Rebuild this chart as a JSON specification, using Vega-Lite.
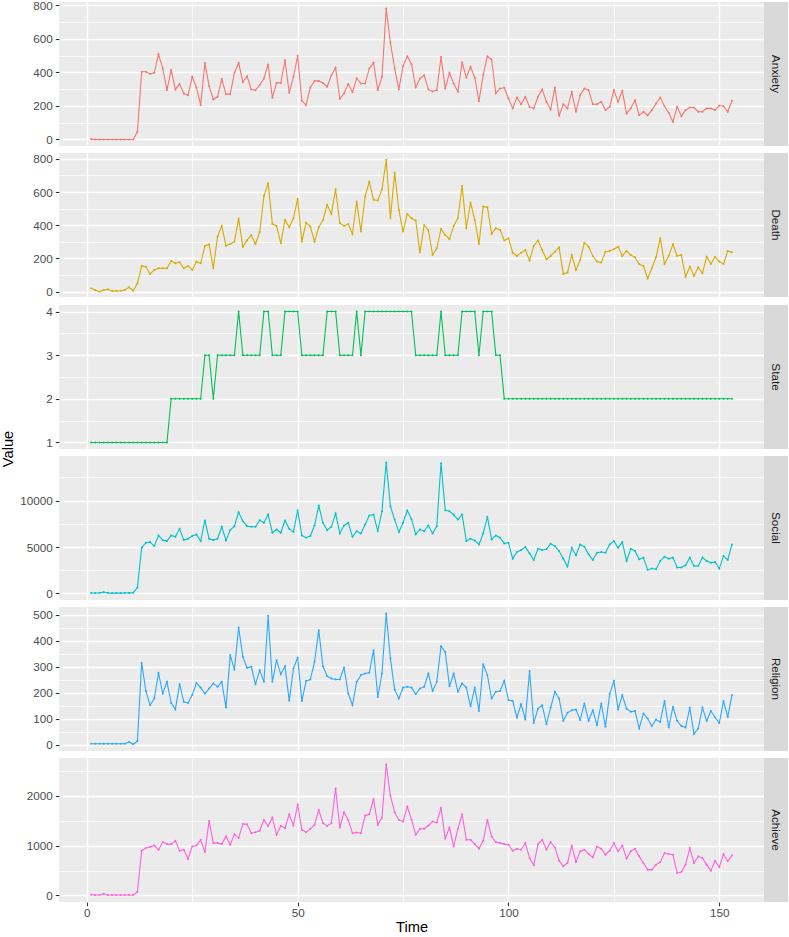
{
"$schema": "https://vega.github.io/schema/vega-lite/v6.json",
"padding": {"left": 0, "top": 0, "right": 0, "bottom": 0},
"background": "#FFFFFF",
"config": {
  "font": "Liberation Sans",
  "view": {"stroke": null},
  "axis": {"labelFont": "Liberation Sans", "titleFont": "Liberation Sans", "domain": false, "gridColor": "#FFFFFF", "tickColor": "#333333", "labelColor": "#4D4D4D", "labelFontSize": 11.7, "titleFontSize": 14.7, "titleFontWeight": "normal", "titleColor": "#000000", "tickSize": 3.7, "tickWidth": 1.1, "labelPadding": 3, "labelOverlap": false, "format": "d"}
},
"datasets": {
"anxiety": [{"Time":1,"Value":2},{"Time":2,"Value":0},{"Time":3,"Value":0},{"Time":4,"Value":0},{"Time":5,"Value":0},{"Time":6,"Value":0},{"Time":7,"Value":0},{"Time":8,"Value":0},{"Time":9,"Value":0},{"Time":10,"Value":0},{"Time":11,"Value":0},{"Time":12,"Value":46},{"Time":13,"Value":403},{"Time":14,"Value":403},{"Time":15,"Value":390},{"Time":16,"Value":397},{"Time":17,"Value":508},{"Time":18,"Value":423},{"Time":19,"Value":294},{"Time":20,"Value":415},{"Time":21,"Value":298},{"Time":22,"Value":330},{"Time":23,"Value":274},{"Time":24,"Value":264},{"Time":25,"Value":373},{"Time":26,"Value":310},{"Time":27,"Value":204},{"Time":28,"Value":456},{"Time":29,"Value":318},{"Time":30,"Value":238},{"Time":31,"Value":254},{"Time":32,"Value":361},{"Time":33,"Value":270},{"Time":34,"Value":270},{"Time":35,"Value":397},{"Time":36,"Value":456},{"Time":37,"Value":341},{"Time":38,"Value":377},{"Time":39,"Value":298},{"Time":40,"Value":294},{"Time":41,"Value":324},{"Time":42,"Value":363},{"Time":43,"Value":447},{"Time":44,"Value":248},{"Time":45,"Value":337},{"Time":46,"Value":337},{"Time":47,"Value":472},{"Time":48,"Value":278},{"Time":49,"Value":373},{"Time":50,"Value":498},{"Time":51,"Value":230},{"Time":52,"Value":204},{"Time":53,"Value":310},{"Time":54,"Value":349},{"Time":55,"Value":349},{"Time":56,"Value":337},{"Time":57,"Value":314},{"Time":58,"Value":383},{"Time":59,"Value":427},{"Time":60,"Value":242},{"Time":61,"Value":274},{"Time":62,"Value":330},{"Time":63,"Value":282},{"Time":64,"Value":365},{"Time":65,"Value":333},{"Time":66,"Value":333},{"Time":67,"Value":423},{"Time":68,"Value":458},{"Time":69,"Value":294},{"Time":70,"Value":373},{"Time":71,"Value":780},{"Time":72,"Value":576},{"Time":73,"Value":423},{"Time":74,"Value":298},{"Time":75,"Value":437},{"Time":76,"Value":496},{"Time":77,"Value":448},{"Time":78,"Value":310},{"Time":79,"Value":363},{"Time":80,"Value":383},{"Time":81,"Value":298},{"Time":82,"Value":286},{"Time":83,"Value":294},{"Time":84,"Value":492},{"Time":85,"Value":304},{"Time":86,"Value":397},{"Time":87,"Value":333},{"Time":88,"Value":284},{"Time":89,"Value":460},{"Time":90,"Value":369},{"Time":91,"Value":433},{"Time":92,"Value":369},{"Time":93,"Value":228},{"Time":94,"Value":383},{"Time":95,"Value":496},{"Time":96,"Value":476},{"Time":97,"Value":274},{"Time":98,"Value":304},{"Time":99,"Value":308},{"Time":100,"Value":244},{"Time":101,"Value":185},{"Time":102,"Value":250},{"Time":103,"Value":210},{"Time":104,"Value":254},{"Time":105,"Value":194},{"Time":106,"Value":185},{"Time":107,"Value":254},{"Time":108,"Value":298},{"Time":109,"Value":224},{"Time":110,"Value":179},{"Time":111,"Value":310},{"Time":112,"Value":141},{"Time":113,"Value":210},{"Time":114,"Value":185},{"Time":115,"Value":284},{"Time":116,"Value":165},{"Time":117,"Value":264},{"Time":118,"Value":304},{"Time":119,"Value":294},{"Time":120,"Value":210},{"Time":121,"Value":210},{"Time":122,"Value":224},{"Time":123,"Value":175},{"Time":124,"Value":194},{"Time":125,"Value":294},{"Time":126,"Value":224},{"Time":127,"Value":290},{"Time":128,"Value":155},{"Time":129,"Value":185},{"Time":130,"Value":234},{"Time":131,"Value":145},{"Time":132,"Value":165},{"Time":133,"Value":143},{"Time":134,"Value":175},{"Time":135,"Value":214},{"Time":136,"Value":250},{"Time":137,"Value":198},{"Time":138,"Value":159},{"Time":139,"Value":105},{"Time":140,"Value":194},{"Time":141,"Value":139},{"Time":142,"Value":175},{"Time":143,"Value":190},{"Time":144,"Value":190},{"Time":145,"Value":165},{"Time":146,"Value":165},{"Time":147,"Value":185},{"Time":148,"Value":185},{"Time":149,"Value":175},{"Time":150,"Value":202},{"Time":151,"Value":198},{"Time":152,"Value":165},{"Time":153,"Value":230}],
"death": [{"Time":1,"Value":20},{"Time":2,"Value":10},{"Time":3,"Value":0},{"Time":4,"Value":10},{"Time":5,"Value":14},{"Time":6,"Value":4},{"Time":7,"Value":4},{"Time":8,"Value":6},{"Time":9,"Value":10},{"Time":10,"Value":26},{"Time":11,"Value":6},{"Time":12,"Value":50},{"Time":13,"Value":155},{"Time":14,"Value":150},{"Time":15,"Value":107},{"Time":16,"Value":131},{"Time":17,"Value":141},{"Time":18,"Value":141},{"Time":19,"Value":141},{"Time":20,"Value":185},{"Time":21,"Value":171},{"Time":22,"Value":177},{"Time":23,"Value":141},{"Time":24,"Value":155},{"Time":25,"Value":131},{"Time":26,"Value":181},{"Time":27,"Value":171},{"Time":28,"Value":275},{"Time":29,"Value":285},{"Time":30,"Value":141},{"Time":31,"Value":332},{"Time":32,"Value":396},{"Time":33,"Value":277},{"Time":34,"Value":287},{"Time":35,"Value":301},{"Time":36,"Value":440},{"Time":37,"Value":270},{"Time":38,"Value":310},{"Time":39,"Value":340},{"Time":40,"Value":287},{"Time":41,"Value":360},{"Time":42,"Value":577},{"Time":43,"Value":653},{"Time":44,"Value":408},{"Time":45,"Value":396},{"Time":46,"Value":291},{"Time":47,"Value":432},{"Time":48,"Value":388},{"Time":49,"Value":442},{"Time":50,"Value":559},{"Time":51,"Value":301},{"Time":52,"Value":416},{"Time":53,"Value":392},{"Time":54,"Value":301},{"Time":55,"Value":388},{"Time":56,"Value":432},{"Time":57,"Value":523},{"Time":58,"Value":468},{"Time":59,"Value":617},{"Time":60,"Value":412},{"Time":61,"Value":396},{"Time":62,"Value":408},{"Time":63,"Value":346},{"Time":64,"Value":543},{"Time":65,"Value":362},{"Time":66,"Value":573},{"Time":67,"Value":663},{"Time":68,"Value":553},{"Time":69,"Value":549},{"Time":70,"Value":617},{"Time":71,"Value":794},{"Time":72,"Value":442},{"Time":73,"Value":718},{"Time":74,"Value":492},{"Time":75,"Value":362},{"Time":76,"Value":468},{"Time":77,"Value":442},{"Time":78,"Value":428},{"Time":79,"Value":237},{"Time":80,"Value":400},{"Time":81,"Value":372},{"Time":82,"Value":221},{"Time":83,"Value":261},{"Time":84,"Value":378},{"Time":85,"Value":342},{"Time":86,"Value":316},{"Time":87,"Value":396},{"Time":88,"Value":442},{"Time":89,"Value":637},{"Time":90,"Value":382},{"Time":91,"Value":537},{"Time":92,"Value":432},{"Time":93,"Value":287},{"Time":94,"Value":513},{"Time":95,"Value":509},{"Time":96,"Value":348},{"Time":97,"Value":382},{"Time":98,"Value":372},{"Time":99,"Value":308},{"Time":100,"Value":322},{"Time":101,"Value":235},{"Time":102,"Value":215},{"Time":103,"Value":235},{"Time":104,"Value":251},{"Time":105,"Value":187},{"Time":106,"Value":277},{"Time":107,"Value":308},{"Time":108,"Value":251},{"Time":109,"Value":195},{"Time":110,"Value":215},{"Time":111,"Value":241},{"Time":112,"Value":267},{"Time":113,"Value":107},{"Time":114,"Value":115},{"Time":115,"Value":221},{"Time":116,"Value":131},{"Time":117,"Value":191},{"Time":118,"Value":295},{"Time":119,"Value":271},{"Time":120,"Value":215},{"Time":121,"Value":181},{"Time":122,"Value":175},{"Time":123,"Value":241},{"Time":124,"Value":245},{"Time":125,"Value":255},{"Time":126,"Value":271},{"Time":127,"Value":215},{"Time":128,"Value":245},{"Time":129,"Value":221},{"Time":130,"Value":207},{"Time":131,"Value":167},{"Time":132,"Value":155},{"Time":133,"Value":80},{"Time":134,"Value":141},{"Time":135,"Value":207},{"Time":136,"Value":322},{"Time":137,"Value":167},{"Time":138,"Value":215},{"Time":139,"Value":285},{"Time":140,"Value":215},{"Time":141,"Value":221},{"Time":142,"Value":90},{"Time":143,"Value":151},{"Time":144,"Value":95},{"Time":145,"Value":147},{"Time":146,"Value":111},{"Time":147,"Value":211},{"Time":148,"Value":167},{"Time":149,"Value":211},{"Time":150,"Value":181},{"Time":151,"Value":167},{"Time":152,"Value":245},{"Time":153,"Value":237}],
"state": [{"Time":1,"Value":1},{"Time":2,"Value":1},{"Time":3,"Value":1},{"Time":4,"Value":1},{"Time":5,"Value":1},{"Time":6,"Value":1},{"Time":7,"Value":1},{"Time":8,"Value":1},{"Time":9,"Value":1},{"Time":10,"Value":1},{"Time":11,"Value":1},{"Time":12,"Value":1},{"Time":13,"Value":1},{"Time":14,"Value":1},{"Time":15,"Value":1},{"Time":16,"Value":1},{"Time":17,"Value":1},{"Time":18,"Value":1},{"Time":19,"Value":1},{"Time":20,"Value":2},{"Time":21,"Value":2},{"Time":22,"Value":2},{"Time":23,"Value":2},{"Time":24,"Value":2},{"Time":25,"Value":2},{"Time":26,"Value":2},{"Time":27,"Value":2},{"Time":28,"Value":3},{"Time":29,"Value":3},{"Time":30,"Value":2},{"Time":31,"Value":3},{"Time":32,"Value":3},{"Time":33,"Value":3},{"Time":34,"Value":3},{"Time":35,"Value":3},{"Time":36,"Value":4},{"Time":37,"Value":3},{"Time":38,"Value":3},{"Time":39,"Value":3},{"Time":40,"Value":3},{"Time":41,"Value":3},{"Time":42,"Value":4},{"Time":43,"Value":4},{"Time":44,"Value":3},{"Time":45,"Value":3},{"Time":46,"Value":3},{"Time":47,"Value":4},{"Time":48,"Value":4},{"Time":49,"Value":4},{"Time":50,"Value":4},{"Time":51,"Value":3},{"Time":52,"Value":3},{"Time":53,"Value":3},{"Time":54,"Value":3},{"Time":55,"Value":3},{"Time":56,"Value":3},{"Time":57,"Value":4},{"Time":58,"Value":4},{"Time":59,"Value":4},{"Time":60,"Value":3},{"Time":61,"Value":3},{"Time":62,"Value":3},{"Time":63,"Value":3},{"Time":64,"Value":4},{"Time":65,"Value":3},{"Time":66,"Value":4},{"Time":67,"Value":4},{"Time":68,"Value":4},{"Time":69,"Value":4},{"Time":70,"Value":4},{"Time":71,"Value":4},{"Time":72,"Value":4},{"Time":73,"Value":4},{"Time":74,"Value":4},{"Time":75,"Value":4},{"Time":76,"Value":4},{"Time":77,"Value":4},{"Time":78,"Value":3},{"Time":79,"Value":3},{"Time":80,"Value":3},{"Time":81,"Value":3},{"Time":82,"Value":3},{"Time":83,"Value":3},{"Time":84,"Value":4},{"Time":85,"Value":3},{"Time":86,"Value":3},{"Time":87,"Value":3},{"Time":88,"Value":3},{"Time":89,"Value":4},{"Time":90,"Value":4},{"Time":91,"Value":4},{"Time":92,"Value":4},{"Time":93,"Value":3},{"Time":94,"Value":4},{"Time":95,"Value":4},{"Time":96,"Value":4},{"Time":97,"Value":3},{"Time":98,"Value":3},{"Time":99,"Value":2},{"Time":100,"Value":2},{"Time":101,"Value":2},{"Time":102,"Value":2},{"Time":103,"Value":2},{"Time":104,"Value":2},{"Time":105,"Value":2},{"Time":106,"Value":2},{"Time":107,"Value":2},{"Time":108,"Value":2},{"Time":109,"Value":2},{"Time":110,"Value":2},{"Time":111,"Value":2},{"Time":112,"Value":2},{"Time":113,"Value":2},{"Time":114,"Value":2},{"Time":115,"Value":2},{"Time":116,"Value":2},{"Time":117,"Value":2},{"Time":118,"Value":2},{"Time":119,"Value":2},{"Time":120,"Value":2},{"Time":121,"Value":2},{"Time":122,"Value":2},{"Time":123,"Value":2},{"Time":124,"Value":2},{"Time":125,"Value":2},{"Time":126,"Value":2},{"Time":127,"Value":2},{"Time":128,"Value":2},{"Time":129,"Value":2},{"Time":130,"Value":2},{"Time":131,"Value":2},{"Time":132,"Value":2},{"Time":133,"Value":2},{"Time":134,"Value":2},{"Time":135,"Value":2},{"Time":136,"Value":2},{"Time":137,"Value":2},{"Time":138,"Value":2},{"Time":139,"Value":2},{"Time":140,"Value":2},{"Time":141,"Value":2},{"Time":142,"Value":2},{"Time":143,"Value":2},{"Time":144,"Value":2},{"Time":145,"Value":2},{"Time":146,"Value":2},{"Time":147,"Value":2},{"Time":148,"Value":2},{"Time":149,"Value":2},{"Time":150,"Value":2},{"Time":151,"Value":2},{"Time":152,"Value":2},{"Time":153,"Value":2}],
"social": [{"Time":1,"Value":50},{"Time":2,"Value":50},{"Time":3,"Value":60},{"Time":4,"Value":150},{"Time":5,"Value":50},{"Time":6,"Value":40},{"Time":7,"Value":50},{"Time":8,"Value":40},{"Time":9,"Value":50},{"Time":10,"Value":60},{"Time":11,"Value":80},{"Time":12,"Value":640},{"Time":13,"Value":4930},{"Time":14,"Value":5460},{"Time":15,"Value":5530},{"Time":16,"Value":5100},{"Time":17,"Value":6250},{"Time":18,"Value":5750},{"Time":19,"Value":5640},{"Time":20,"Value":6250},{"Time":21,"Value":6100},{"Time":22,"Value":6960},{"Time":23,"Value":5750},{"Time":24,"Value":5890},{"Time":25,"Value":6180},{"Time":26,"Value":6360},{"Time":27,"Value":5640},{"Time":28,"Value":7860},{"Time":29,"Value":5890},{"Time":30,"Value":5750},{"Time":31,"Value":5890},{"Time":32,"Value":7180},{"Time":33,"Value":5710},{"Time":34,"Value":6820},{"Time":35,"Value":7250},{"Time":36,"Value":8750},{"Time":37,"Value":7780},{"Time":38,"Value":7250},{"Time":39,"Value":7180},{"Time":40,"Value":7180},{"Time":41,"Value":7890},{"Time":42,"Value":7610},{"Time":43,"Value":8500},{"Time":44,"Value":6540},{"Time":45,"Value":6890},{"Time":46,"Value":6540},{"Time":47,"Value":7860},{"Time":48,"Value":6960},{"Time":49,"Value":6610},{"Time":50,"Value":8960},{"Time":51,"Value":6250},{"Time":52,"Value":6000},{"Time":53,"Value":6180},{"Time":54,"Value":7320},{"Time":55,"Value":9460},{"Time":56,"Value":7610},{"Time":57,"Value":6820},{"Time":58,"Value":7180},{"Time":59,"Value":8610},{"Time":60,"Value":6460},{"Time":61,"Value":7320},{"Time":62,"Value":7610},{"Time":63,"Value":6100},{"Time":64,"Value":6710},{"Time":65,"Value":6460},{"Time":66,"Value":7430},{"Time":67,"Value":8390},{"Time":68,"Value":8500},{"Time":69,"Value":6710},{"Time":70,"Value":8860},{"Time":71,"Value":14100},{"Time":72,"Value":9390},{"Time":73,"Value":7960},{"Time":74,"Value":6610},{"Time":75,"Value":7610},{"Time":76,"Value":8930},{"Time":77,"Value":8000},{"Time":78,"Value":6360},{"Time":79,"Value":6890},{"Time":80,"Value":6710},{"Time":81,"Value":7320},{"Time":82,"Value":6460},{"Time":83,"Value":7250},{"Time":84,"Value":14030},{"Time":85,"Value":8960},{"Time":86,"Value":8860},{"Time":87,"Value":8500},{"Time":88,"Value":7960},{"Time":89,"Value":8500},{"Time":90,"Value":5640},{"Time":91,"Value":5890},{"Time":92,"Value":5710},{"Time":93,"Value":5280},{"Time":94,"Value":6460},{"Time":95,"Value":8250},{"Time":96,"Value":5820},{"Time":97,"Value":6250},{"Time":98,"Value":6000},{"Time":99,"Value":5390},{"Time":100,"Value":5460},{"Time":101,"Value":3750},{"Time":102,"Value":4460},{"Time":103,"Value":4680},{"Time":104,"Value":5000},{"Time":105,"Value":4320},{"Time":106,"Value":3610},{"Time":107,"Value":4820},{"Time":108,"Value":4680},{"Time":109,"Value":4750},{"Time":110,"Value":5360},{"Time":111,"Value":5100},{"Time":112,"Value":4570},{"Time":113,"Value":3750},{"Time":114,"Value":2890},{"Time":115,"Value":4930},{"Time":116,"Value":4110},{"Time":117,"Value":5280},{"Time":118,"Value":5040},{"Time":119,"Value":4210},{"Time":120,"Value":3610},{"Time":121,"Value":4390},{"Time":122,"Value":4460},{"Time":123,"Value":4390},{"Time":124,"Value":5280},{"Time":125,"Value":5640},{"Time":126,"Value":4930},{"Time":127,"Value":5530},{"Time":128,"Value":3500},{"Time":129,"Value":4820},{"Time":130,"Value":4570},{"Time":131,"Value":3680},{"Time":132,"Value":3860},{"Time":133,"Value":2540},{"Time":134,"Value":2680},{"Time":135,"Value":2610},{"Time":136,"Value":3500},{"Time":137,"Value":3960},{"Time":138,"Value":3750},{"Time":139,"Value":3860},{"Time":140,"Value":2790},{"Time":141,"Value":2790},{"Time":142,"Value":3040},{"Time":143,"Value":3860},{"Time":144,"Value":2960},{"Time":145,"Value":2960},{"Time":146,"Value":3860},{"Time":147,"Value":3500},{"Time":148,"Value":3320},{"Time":149,"Value":3390},{"Time":150,"Value":2680},{"Time":151,"Value":4040},{"Time":152,"Value":3610},{"Time":153,"Value":5280}],
"religion": [{"Time":1,"Value":3},{"Time":2,"Value":3},{"Time":3,"Value":3},{"Time":4,"Value":3},{"Time":5,"Value":3},{"Time":6,"Value":3},{"Time":7,"Value":3},{"Time":8,"Value":3},{"Time":9,"Value":3},{"Time":10,"Value":10},{"Time":11,"Value":1},{"Time":12,"Value":13},{"Time":13,"Value":314},{"Time":14,"Value":206},{"Time":15,"Value":151},{"Time":16,"Value":177},{"Time":17,"Value":276},{"Time":18,"Value":196},{"Time":19,"Value":241},{"Time":20,"Value":160},{"Time":21,"Value":135},{"Time":22,"Value":232},{"Time":23,"Value":164},{"Time":24,"Value":160},{"Time":25,"Value":190},{"Time":26,"Value":237},{"Time":27,"Value":219},{"Time":28,"Value":196},{"Time":29,"Value":215},{"Time":30,"Value":235},{"Time":31,"Value":222},{"Time":32,"Value":241},{"Time":33,"Value":142},{"Time":34,"Value":344},{"Time":35,"Value":288},{"Time":36,"Value":450},{"Time":37,"Value":337},{"Time":38,"Value":295},{"Time":39,"Value":299},{"Time":40,"Value":232},{"Time":41,"Value":286},{"Time":42,"Value":241},{"Time":43,"Value":495},{"Time":44,"Value":241},{"Time":45,"Value":324},{"Time":46,"Value":270},{"Time":47,"Value":301},{"Time":48,"Value":168},{"Time":49,"Value":292},{"Time":50,"Value":335},{"Time":51,"Value":167},{"Time":52,"Value":244},{"Time":53,"Value":250},{"Time":54,"Value":318},{"Time":55,"Value":440},{"Time":56,"Value":301},{"Time":57,"Value":263},{"Time":58,"Value":254},{"Time":59,"Value":250},{"Time":60,"Value":250},{"Time":61,"Value":296},{"Time":62,"Value":196},{"Time":63,"Value":151},{"Time":64,"Value":241},{"Time":65,"Value":267},{"Time":66,"Value":273},{"Time":67,"Value":276},{"Time":68,"Value":363},{"Time":69,"Value":183},{"Time":70,"Value":273},{"Time":71,"Value":504},{"Time":72,"Value":331},{"Time":73,"Value":212},{"Time":74,"Value":177},{"Time":75,"Value":219},{"Time":76,"Value":222},{"Time":77,"Value":219},{"Time":78,"Value":194},{"Time":79,"Value":215},{"Time":80,"Value":222},{"Time":81,"Value":273},{"Time":82,"Value":206},{"Time":83,"Value":241},{"Time":84,"Value":378},{"Time":85,"Value":356},{"Time":86,"Value":224},{"Time":87,"Value":273},{"Time":88,"Value":203},{"Time":89,"Value":235},{"Time":90,"Value":219},{"Time":91,"Value":147},{"Time":92,"Value":219},{"Time":93,"Value":129},{"Time":94,"Value":309},{"Time":95,"Value":267},{"Time":96,"Value":177},{"Time":97,"Value":203},{"Time":98,"Value":206},{"Time":99,"Value":245},{"Time":100,"Value":171},{"Time":101,"Value":167},{"Time":102,"Value":104},{"Time":103,"Value":155},{"Time":104,"Value":96},{"Time":105,"Value":283},{"Time":106,"Value":83},{"Time":107,"Value":138},{"Time":108,"Value":151},{"Time":109,"Value":78},{"Time":110,"Value":142},{"Time":111,"Value":203},{"Time":112,"Value":177},{"Time":113,"Value":91},{"Time":114,"Value":122},{"Time":115,"Value":132},{"Time":116,"Value":135},{"Time":117,"Value":94},{"Time":118,"Value":158},{"Time":119,"Value":91},{"Time":120,"Value":132},{"Time":121,"Value":74},{"Time":122,"Value":158},{"Time":123,"Value":68},{"Time":124,"Value":194},{"Time":125,"Value":245},{"Time":126,"Value":135},{"Time":127,"Value":190},{"Time":128,"Value":138},{"Time":129,"Value":126},{"Time":130,"Value":129},{"Time":131,"Value":62},{"Time":132,"Value":119},{"Time":133,"Value":100},{"Time":134,"Value":71},{"Time":135,"Value":96},{"Time":136,"Value":87},{"Time":137,"Value":167},{"Time":138,"Value":65},{"Time":139,"Value":145},{"Time":140,"Value":91},{"Time":141,"Value":71},{"Time":142,"Value":65},{"Time":143,"Value":142},{"Time":144,"Value":40},{"Time":145,"Value":62},{"Time":146,"Value":142},{"Time":147,"Value":91},{"Time":148,"Value":129},{"Time":149,"Value":104},{"Time":150,"Value":83},{"Time":151,"Value":167},{"Time":152,"Value":106},{"Time":153,"Value":190}],
"achieve": [{"Time":1,"Value":15},{"Time":2,"Value":10},{"Time":3,"Value":10},{"Time":4,"Value":35},{"Time":5,"Value":10},{"Time":6,"Value":10},{"Time":7,"Value":10},{"Time":8,"Value":10},{"Time":9,"Value":10},{"Time":10,"Value":10},{"Time":11,"Value":10},{"Time":12,"Value":73},{"Time":13,"Value":897},{"Time":14,"Value":950},{"Time":15,"Value":970},{"Time":16,"Value":1003},{"Time":17,"Value":917},{"Time":18,"Value":1070},{"Time":19,"Value":1030},{"Time":20,"Value":1030},{"Time":21,"Value":1096},{"Time":22,"Value":897},{"Time":23,"Value":917},{"Time":24,"Value":731},{"Time":25,"Value":983},{"Time":26,"Value":1003},{"Time":27,"Value":1116},{"Time":28,"Value":870},{"Time":29,"Value":1495},{"Time":30,"Value":1050},{"Time":31,"Value":1050},{"Time":32,"Value":1030},{"Time":33,"Value":1183},{"Time":34,"Value":1017},{"Time":35,"Value":1229},{"Time":36,"Value":1150},{"Time":37,"Value":1435},{"Time":38,"Value":1429},{"Time":39,"Value":1249},{"Time":40,"Value":1269},{"Time":41,"Value":1296},{"Time":42,"Value":1515},{"Time":43,"Value":1395},{"Time":44,"Value":1562},{"Time":45,"Value":1216},{"Time":46,"Value":1395},{"Time":47,"Value":1349},{"Time":48,"Value":1628},{"Time":49,"Value":1402},{"Time":50,"Value":1827},{"Time":51,"Value":1316},{"Time":52,"Value":1269},{"Time":53,"Value":1336},{"Time":54,"Value":1415},{"Time":55,"Value":1714},{"Time":56,"Value":1449},{"Time":57,"Value":1395},{"Time":58,"Value":1449},{"Time":59,"Value":2146},{"Time":60,"Value":1362},{"Time":61,"Value":1668},{"Time":62,"Value":1515},{"Time":63,"Value":1249},{"Time":64,"Value":1262},{"Time":65,"Value":1249},{"Time":66,"Value":1601},{"Time":67,"Value":1628},{"Time":68,"Value":1934},{"Time":69,"Value":1415},{"Time":70,"Value":1562},{"Time":71,"Value":2625},{"Time":72,"Value":2000},{"Time":73,"Value":1668},{"Time":74,"Value":1515},{"Time":75,"Value":1482},{"Time":76,"Value":1781},{"Time":77,"Value":1520},{"Time":78,"Value":1216},{"Time":79,"Value":1336},{"Time":80,"Value":1336},{"Time":81,"Value":1402},{"Time":82,"Value":1482},{"Time":83,"Value":1462},{"Time":84,"Value":1761},{"Time":85,"Value":1136},{"Time":86,"Value":1362},{"Time":87,"Value":983},{"Time":88,"Value":1336},{"Time":89,"Value":1628},{"Time":90,"Value":1116},{"Time":91,"Value":1116},{"Time":92,"Value":1030},{"Time":93,"Value":937},{"Time":94,"Value":1096},{"Time":95,"Value":1515},{"Time":96,"Value":1183},{"Time":97,"Value":1070},{"Time":98,"Value":1050},{"Time":99,"Value":1030},{"Time":100,"Value":1017},{"Time":101,"Value":897},{"Time":102,"Value":937},{"Time":103,"Value":917},{"Time":104,"Value":1050},{"Time":105,"Value":751},{"Time":106,"Value":605},{"Time":107,"Value":1030},{"Time":108,"Value":1116},{"Time":109,"Value":917},{"Time":110,"Value":1070},{"Time":111,"Value":963},{"Time":112,"Value":698},{"Time":113,"Value":585},{"Time":114,"Value":651},{"Time":115,"Value":1003},{"Time":116,"Value":671},{"Time":117,"Value":884},{"Time":118,"Value":917},{"Time":119,"Value":831},{"Time":120,"Value":764},{"Time":121,"Value":983},{"Time":122,"Value":937},{"Time":123,"Value":817},{"Time":124,"Value":897},{"Time":125,"Value":1050},{"Time":126,"Value":884},{"Time":127,"Value":1003},{"Time":128,"Value":738},{"Time":129,"Value":884},{"Time":130,"Value":937},{"Time":131,"Value":784},{"Time":132,"Value":651},{"Time":133,"Value":518},{"Time":134,"Value":518},{"Time":135,"Value":618},{"Time":136,"Value":671},{"Time":137,"Value":851},{"Time":138,"Value":831},{"Time":139,"Value":817},{"Time":140,"Value":452},{"Time":141,"Value":472},{"Time":142,"Value":618},{"Time":143,"Value":950},{"Time":144,"Value":651},{"Time":145,"Value":784},{"Time":146,"Value":751},{"Time":147,"Value":618},{"Time":148,"Value":498},{"Time":149,"Value":698},{"Time":150,"Value":565},{"Time":151,"Value":831},{"Time":152,"Value":684},{"Time":153,"Value":804}]
},
"spacing": 2,
"hconcat": [
 {"width": 17, "height": 894, "data": {"values": [{"label": "Value"}]},
  "mark": {"type": "text", "angle": 270, "font": "Liberation Sans", "fontSize": 14.7, "color": "#000000"},
  "encoding": {"text": {"field": "label"}}},
 {"spacing": 6, "vconcat": [
 {"spacing": 0, "hconcat": [
  {"width": 705, "height": 144, "view": {"fill": "#EBEBEB", "stroke": null}, "data": {"name": "anxiety"},
   "encoding": {
    "x": {"field": "Time", "type": "quantitative", "scale": {"domain": [-6.6, 160.6], "nice": false, "zero": false}, "axis": {"values": [0,25,50,75,100,125,150], "labels": false, "ticks": false, "title": null, "gridWidth": {"condition": {"test": "datum.value % 50 !== 0", "value": 0.7}, "value": 1.4}}},
    "y": {"field": "Value", "type": "quantitative", "scale": {"domain": [-39, 819], "nice": false, "zero": false}, "axis": {"title": null, "values": [0,100,200,300,400,500,600,700,800], "labelExpr": "datum.value % 200 === 0 ? datum.label : ''", "tickOpacity": {"condition": {"test": "datum.value % 200 !== 0", "value": 0}, "value": 1}, "gridWidth": {"condition": {"test": "datum.value % 200 !== 0", "value": 0.7}, "value": 1.4}}}
   },
   "layer": [
    {"mark": {"type": "line", "color": "#F8766D", "strokeWidth": 1.1}},
    {"mark": {"type": "point", "filled": true, "color": "#F8766D", "size": 4, "opacity": 1}}
   ]},
  {"width": 24, "height": 144, "view": {"fill": "#D9D9D9", "stroke": null}, "data": {"values": [{"panel": "Anxiety"}]},
   "mark": {"type": "text", "angle": 90, "font": "Liberation Sans", "fontSize": 11.7, "color": "#1A1A1A"},
   "encoding": {"text": {"field": "panel"}}}
 ]},
 {"spacing": 0, "hconcat": [
  {"width": 705, "height": 144, "view": {"fill": "#EBEBEB", "stroke": null}, "data": {"name": "death"},
   "encoding": {
    "x": {"field": "Time", "type": "quantitative", "scale": {"domain": [-6.6, 160.6], "nice": false, "zero": false}, "axis": {"values": [0,25,50,75,100,125,150], "labels": false, "ticks": false, "title": null, "gridWidth": {"condition": {"test": "datum.value % 50 !== 0", "value": 0.7}, "value": 1.4}}},
    "y": {"field": "Value", "type": "quantitative", "scale": {"domain": [-32, 835], "nice": false, "zero": false}, "axis": {"title": null, "values": [0,100,200,300,400,500,600,700,800], "labelExpr": "datum.value % 200 === 0 ? datum.label : ''", "tickOpacity": {"condition": {"test": "datum.value % 200 !== 0", "value": 0}, "value": 1}, "gridWidth": {"condition": {"test": "datum.value % 200 !== 0", "value": 0.7}, "value": 1.4}}}
   },
   "layer": [
    {"mark": {"type": "line", "color": "#D9AA00", "strokeWidth": 1.1}},
    {"mark": {"type": "point", "filled": true, "color": "#D9AA00", "size": 4, "opacity": 1}}
   ]},
  {"width": 24, "height": 144, "view": {"fill": "#D9D9D9", "stroke": null}, "data": {"values": [{"panel": "Death"}]},
   "mark": {"type": "text", "angle": 90, "font": "Liberation Sans", "fontSize": 11.7, "color": "#1A1A1A"},
   "encoding": {"text": {"field": "panel"}}}
 ]},
 {"spacing": 0, "hconcat": [
  {"width": 705, "height": 144, "view": {"fill": "#EBEBEB", "stroke": null}, "data": {"name": "state"},
   "encoding": {
    "x": {"field": "Time", "type": "quantitative", "scale": {"domain": [-6.6, 160.6], "nice": false, "zero": false}, "axis": {"values": [0,25,50,75,100,125,150], "labels": false, "ticks": false, "title": null, "gridWidth": {"condition": {"test": "datum.value % 50 !== 0", "value": 0.7}, "value": 1.4}}},
    "y": {"field": "Value", "type": "quantitative", "scale": {"domain": [0.85, 4.15], "nice": false, "zero": false}, "axis": {"title": null, "values": [1,1.5,2,2.5,3,3.5,4], "labelExpr": "datum.value % 1 === 0 ? datum.label : ''", "tickOpacity": {"condition": {"test": "datum.value % 1 !== 0", "value": 0}, "value": 1}, "gridWidth": {"condition": {"test": "datum.value % 1 !== 0", "value": 0.7}, "value": 1.4}}}
   },
   "layer": [
    {"mark": {"type": "line", "color": "#00C05A", "strokeWidth": 1.1}},
    {"mark": {"type": "point", "filled": true, "color": "#00C05A", "size": 4, "opacity": 1}}
   ]},
  {"width": 24, "height": 144, "view": {"fill": "#D9D9D9", "stroke": null}, "data": {"values": [{"panel": "State"}]},
   "mark": {"type": "text", "angle": 90, "font": "Liberation Sans", "fontSize": 11.7, "color": "#1A1A1A"},
   "encoding": {"text": {"field": "panel"}}}
 ]},
 {"spacing": 0, "hconcat": [
  {"width": 705, "height": 144, "view": {"fill": "#EBEBEB", "stroke": null}, "data": {"name": "social"},
   "encoding": {
    "x": {"field": "Time", "type": "quantitative", "scale": {"domain": [-6.6, 160.6], "nice": false, "zero": false}, "axis": {"values": [0,25,50,75,100,125,150], "labels": false, "ticks": false, "title": null, "gridWidth": {"condition": {"test": "datum.value % 50 !== 0", "value": 0.7}, "value": 1.4}}},
    "y": {"field": "Value", "type": "quantitative", "scale": {"domain": [-705, 14805], "nice": false, "zero": false}, "axis": {"title": null, "values": [0,2500,5000,7500,10000,12500], "labelExpr": "datum.value % 5000 === 0 ? datum.label : ''", "tickOpacity": {"condition": {"test": "datum.value % 5000 !== 0", "value": 0}, "value": 1}, "gridWidth": {"condition": {"test": "datum.value % 5000 !== 0", "value": 0.7}, "value": 1.4}}}
   },
   "layer": [
    {"mark": {"type": "line", "color": "#00C2CA", "strokeWidth": 1.1}},
    {"mark": {"type": "point", "filled": true, "color": "#00C2CA", "size": 4, "opacity": 1}}
   ]},
  {"width": 24, "height": 144, "view": {"fill": "#D9D9D9", "stroke": null}, "data": {"values": [{"panel": "Social"}]},
   "mark": {"type": "text", "angle": 90, "font": "Liberation Sans", "fontSize": 11.7, "color": "#1A1A1A"},
   "encoding": {"text": {"field": "panel"}}}
 ]},
 {"spacing": 0, "hconcat": [
  {"width": 705, "height": 144, "view": {"fill": "#EBEBEB", "stroke": null}, "data": {"name": "religion"},
   "encoding": {
    "x": {"field": "Time", "type": "quantitative", "scale": {"domain": [-6.6, 160.6], "nice": false, "zero": false}, "axis": {"values": [0,25,50,75,100,125,150], "labels": false, "ticks": false, "title": null, "gridWidth": {"condition": {"test": "datum.value % 50 !== 0", "value": 0.7}, "value": 1.4}}},
    "y": {"field": "Value", "type": "quantitative", "scale": {"domain": [-25, 529], "nice": false, "zero": false}, "axis": {"title": null, "values": [0,50,100,150,200,250,300,350,400,450,500], "labelExpr": "datum.value % 100 === 0 ? datum.label : ''", "tickOpacity": {"condition": {"test": "datum.value % 100 !== 0", "value": 0}, "value": 1}, "gridWidth": {"condition": {"test": "datum.value % 100 !== 0", "value": 0.7}, "value": 1.4}}}
   },
   "layer": [
    {"mark": {"type": "line", "color": "#2AA9FF", "strokeWidth": 1.1}},
    {"mark": {"type": "point", "filled": true, "color": "#2AA9FF", "size": 4, "opacity": 1}}
   ]},
  {"width": 24, "height": 144, "view": {"fill": "#D9D9D9", "stroke": null}, "data": {"values": [{"panel": "Religion"}]},
   "mark": {"type": "text", "angle": 90, "font": "Liberation Sans", "fontSize": 11.7, "color": "#1A1A1A"},
   "encoding": {"text": {"field": "panel"}}}
 ]},
 {"spacing": 0, "hconcat": [
  {"width": 705, "height": 144, "view": {"fill": "#EBEBEB", "stroke": null}, "data": {"name": "achieve"},
   "encoding": {
    "x": {"field": "Time", "type": "quantitative", "scale": {"domain": [-6.6, 160.6], "nice": false, "zero": false}, "axis": {"title": "Time", "titlePadding": 0, "labelPadding": 2, "values": [0,25,50,75,100,125,150], "labelExpr": "datum.value % 50 === 0 ? datum.label : ''", "tickOpacity": {"condition": {"test": "datum.value % 50 !== 0", "value": 0}, "value": 1}, "gridWidth": {"condition": {"test": "datum.value % 50 !== 0", "value": 0.7}, "value": 1.4}}},
    "y": {"field": "Value", "type": "quantitative", "scale": {"domain": [-131, 2756], "nice": false, "zero": false}, "axis": {"title": null, "values": [0,500,1000,1500,2000,2500], "labelExpr": "datum.value % 1000 === 0 ? datum.label : ''", "tickOpacity": {"condition": {"test": "datum.value % 1000 !== 0", "value": 0}, "value": 1}, "gridWidth": {"condition": {"test": "datum.value % 1000 !== 0", "value": 0.7}, "value": 1.4}}}
   },
   "layer": [
    {"mark": {"type": "line", "color": "#FF61DD", "strokeWidth": 1.1}},
    {"mark": {"type": "point", "filled": true, "color": "#FF61DD", "size": 4, "opacity": 1}}
   ]},
  {"width": 24, "height": 144, "view": {"fill": "#D9D9D9", "stroke": null}, "data": {"values": [{"panel": "Achieve"}]},
   "mark": {"type": "text", "angle": 90, "font": "Liberation Sans", "fontSize": 11.7, "color": "#1A1A1A"},
   "encoding": {"text": {"field": "panel"}}}
 ]}
 ]}
]
}
